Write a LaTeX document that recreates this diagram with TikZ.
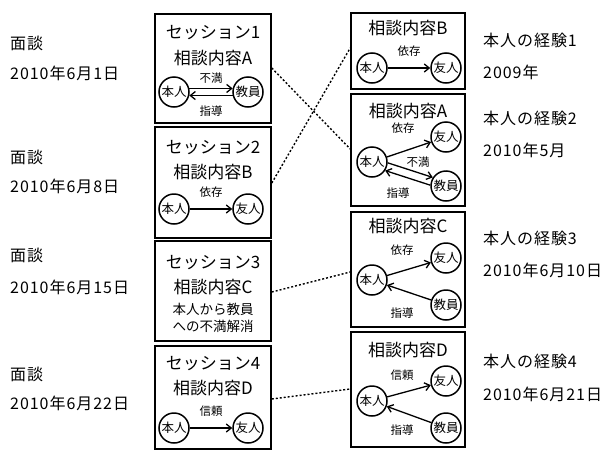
\documentclass[tikz,border=0pt]{standalone}
\usepackage{fontspec}
\setmainfont{Noto Sans CJK JP}
\newfontfamily\sidefont{Noto Sans CJK JP}[LetterSpace=6.0]
\usetikzlibrary{arrows.meta}
\tikzset{
  box/.style={draw, line width=1.6pt, inner sep=0pt, minimum width=#1},
  circ/.style={draw, circle, line width=1.5pt, minimum size=30pt, inner sep=0pt, font=\fontsize{12.5}{12.5}\selectfont},
  arr/.style={-{Straight Barb[length=5pt,width=8pt]}, line width=1.3pt},
  head/.style={font=\fontsize{17}{17}\selectfont, inner sep=0pt},
  small/.style={font=\fontsize{13.5}{14}\selectfont, inner sep=0pt},
  lab/.style={font=\fontsize{11.5}{12}\selectfont, inner sep=0pt},
  side/.style={font=\sidefont\fontsize{16}{16}\selectfont, anchor=west, inner sep=0pt},
  dotline/.style={line width=1.4pt, dash pattern=on 2pt off 2pt}
}
\begin{document}
\begin{tikzpicture}[x=1pt,y=-1pt]
\useasboundingbox (0,0) rectangle (610,450);
% left side texts
\node[side] (m1) at (10,43) {面談};
\node[side] (d1) at (10,73) {2010年6月1日};
\node[side] (m2) at (10,157) {面談};
\node[side] (d2) at (10,186) {2010年6月8日};
\node[side] (m3) at (10,255) {面談};
\node[side] (d3) at (10,287) {2010年6月15日};
\node[side] (m4) at (10,374) {面談};
\node[side] (d4) at (10,403) {2010年6月22日};
% right side texts
\node[side] (e1) at (483,40) {本人の経験1};
\node[side] (f1) at (483,72) {2009年};
\node[side] (e2) at (483,118) {本人の経験2};
\node[side] (f2) at (483,150) {2010年5月};
\node[side] (e3) at (483,238) {本人の経験3};
\node[side] (f3) at (483,270) {2010年6月10日};
\node[side] (e4) at (483,361) {本人の経験4};
\node[side] (f4) at (483,394) {2010年6月21日};
% left boxes
\node[box=116pt, minimum height=109pt] (L1) at (213,68.5) {};
\node[box=116pt, minimum height=111pt] (L2) at (213,182.5) {};
\node[box=116pt, minimum height=100pt] (L3) at (213,291) {};
\node[box=116pt, minimum height=103pt] (L4) at (213,397.5) {};
% right boxes
\node[box=114pt, minimum height=76pt] (RB) at (408,51) {};
\node[box=114pt, minimum height=112pt] (RA) at (408,150) {};
\node[box=114pt, minimum height=115pt] (RC) at (408,269.5) {};
\node[box=114pt, minimum height=115pt] (RD) at (408,389.5) {};
% session 1
\node[head] (s1a) at (213,33) {セッション1};
\node[head] (s1b) at (213,58) {相談内容A};
\node[circ] (h1) at (174,92) {本人};
\node[circ] (k1) at (248,92) {教員};
\draw[arr] (h1.13) -- (k1.167);
\draw[arr] (k1.-167) -- (h1.-13);
\node[lab] (l1a) at (211,78) {不満};
\node[lab] (l1b) at (211,111) {指導};
% session 2
\node[head] (s2a) at (213,148) {セッション2};
\node[head] (s2b) at (213,172) {相談内容B};
\node[circ] (h2) at (174,209) {本人};
\node[circ] (y2) at (248,209) {友人};
\draw[arr] (h2) -- (y2);
\node[lab] (l2a) at (211,192) {依存};
% session 3
\node[head] (s3a) at (213,263) {セッション3};
\node[head] (s3b) at (213,287) {相談内容C};
\node[small] (s3c) at (213,309) {本人から教員};
\node[small] (s3d) at (213,326) {への不満解消};
% session 4
\node[head] (s4a) at (213,364) {セッション4};
\node[head] (s4b) at (213,388) {相談内容D};
\node[circ] (h4) at (174,428) {本人};
\node[circ] (y4) at (248,428) {友人};
\draw[arr] (h4) -- (y4);
\node[lab] (l4a) at (211,411) {信頼};
% right box B
\node[head] (rbh) at (408,28) {相談内容B};
\node[circ] (hB) at (372,68) {本人};
\node[circ] (yB) at (446,68) {友人};
\draw[arr] (hB) -- (yB);
\node[lab] (lBa) at (409,51) {依存};
% right box A
\node[head] (rah) at (408,111) {相談内容A};
\node[circ] (yA) at (446,137) {友人};
\node[circ] (hA) at (372,162) {本人};
\node[circ] (kA) at (446,186) {教員};
\draw[arr] (hA) -- (yA);
\draw[arr] (hA.-3) -- (kA.147);
\draw[arr] (kA.177) -- (hA.-33);
\node[lab] (lAa) at (403,128) {依存};
\node[lab] (lAb) at (418,162) {不満};
\node[lab] (lAc) at (398,193) {指導};
% right box C
\node[head] (rch) at (408,226) {相談内容C};
\node[circ] (yC) at (446,258) {友人};
\node[circ] (hC) at (372,280) {本人};
\node[circ] (kC) at (446,305) {教員};
\draw[arr] (hC) -- (yC);
\draw[arr] (kC) -- (hC);
\node[lab] (lCa) at (402,250) {依存};
\node[lab] (lCb) at (402,313) {指導};
% right box D
\node[head] (rdh) at (408,350) {相談内容D};
\node[circ] (yD) at (446,381) {友人};
\node[circ] (hD) at (372,401) {本人};
\node[circ] (kD) at (446,428) {教員};
\draw[arr] (hD) -- (yD);
\draw[arr] (kD) -- (hD);
\node[lab] (lDa) at (402,375) {信頼};
\node[lab] (lDb) at (402,430) {指導};
% dotted connectors
\draw[dotline] (L1.east |- 0,68) -- (RA.west |- 0,149);
\draw[dotline] (L2.east |- 0,183) -- (RB.west |- 0,48);
\draw[dotline] (L3.east |- 0,292) -- (RC.west |- 0,272);
\draw[dotline] (L4.east |- 0,399) -- (RD.west |- 0,389);
\end{tikzpicture}
\end{document}
